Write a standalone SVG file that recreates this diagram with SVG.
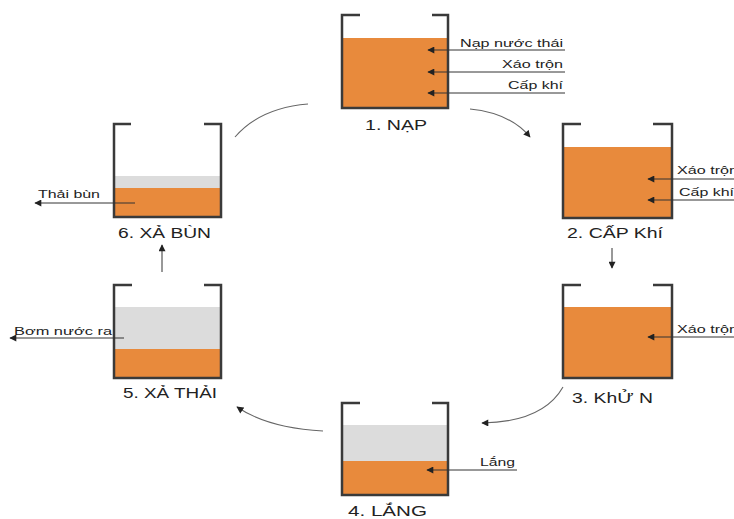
<svg xmlns="http://www.w3.org/2000/svg" width="734" height="519" viewBox="0 0 734 519">
<defs>
<marker id="ah" viewBox="0 0 10 10" refX="9" refY="5" markerWidth="8" markerHeight="7" markerUnits="userSpaceOnUse" orient="auto">
<path d="M0,0 L10,5 L0,10 z" fill="#222"/>
</marker>
<style>
.wall{fill:none;stroke:#3a3a3a;stroke-width:2.5}
.org{fill:#E88A3C}
.gry{fill:#DCDCDC}
.ln{fill:none;stroke:#333;stroke-width:1}
.cv{fill:none;stroke:#666;stroke-width:1.1}
.sm{font-family:"Liberation Sans",Arial,sans-serif;font-size:10.5px;fill:#222}
.lb{font-family:"Liberation Sans",Arial,sans-serif;font-size:14px;fill:#222}
</style>
</defs>
<rect width="734" height="519" fill="#fff"/>

<g id="tank1">
<rect class="org" x="342" y="38" width="106" height="70"/>
<path class="wall" d="M360,15 H342 V108 H448 V15 H432"/>
<text class="sm" x="460" y="47" textLength="103" lengthAdjust="spacingAndGlyphs">Nạp nước thái</text>
<text class="sm" x="502" y="68" textLength="61" lengthAdjust="spacingAndGlyphs">Xáo trộn</text>
<text class="sm" x="508" y="89" textLength="55" lengthAdjust="spacingAndGlyphs">Cấp khí</text>
<path class="ln" d="M565,50 H428" marker-end="url(#ah)"/>
<path class="ln" d="M565,72 H428" marker-end="url(#ah)"/>
<path class="ln" d="M565,93 H428" marker-end="url(#ah)"/>
<text class="lb" x="365" y="130" textLength="62" lengthAdjust="spacingAndGlyphs">1. NẠP</text>
</g>

<g id="tank2">
<rect class="org" x="563" y="147" width="109" height="71"/>
<path class="wall" d="M581,124 H563 V218 H672 V124 H653"/>
<text class="sm" x="677" y="174" textLength="61" lengthAdjust="spacingAndGlyphs">Xáo trộn</text>
<text class="sm" x="679" y="196" textLength="55" lengthAdjust="spacingAndGlyphs">Cấp khí</text>
<path class="ln" d="M734,179 H648" marker-end="url(#ah)"/>
<path class="ln" d="M734,200 H648" marker-end="url(#ah)"/>
<text class="lb" x="567" y="238" textLength="96" lengthAdjust="spacingAndGlyphs">2. CẤP Khí</text>
</g>

<g id="tank3">
<rect class="org" x="563" y="307" width="109" height="71"/>
<path class="wall" d="M581,285 H563 V378 H672 V285 H653"/>
<text class="sm" x="677" y="333" textLength="61" lengthAdjust="spacingAndGlyphs">Xáo trộn</text>
<path class="ln" d="M734,337 H648" marker-end="url(#ah)"/>
<text class="lb" x="572" y="403" textLength="81" lengthAdjust="spacingAndGlyphs">3. KhỬ N</text>
</g>

<g id="tank4">
<rect class="gry" x="342" y="425" width="106" height="36"/>
<rect class="org" x="342" y="461" width="106" height="34"/>
<path class="wall" d="M360,403 H342 V495 H448 V403 H432"/>
<text class="sm" x="480" y="466" textLength="35" lengthAdjust="spacingAndGlyphs">Lắng</text>
<path class="ln" d="M517,470 H427" marker-end="url(#ah)"/>
<text class="lb" x="348" y="516" textLength="79" lengthAdjust="spacingAndGlyphs">4. LẮNG</text>
</g>

<g id="tank5">
<rect class="gry" x="114" y="307" width="107" height="42"/>
<rect class="org" x="114" y="349" width="107" height="29"/>
<path class="wall" d="M132,285 H114 V378 H221 V285 H204"/>
<text class="sm" x="14" y="335" textLength="98" lengthAdjust="spacingAndGlyphs">Bơm nước ra</text>
<path class="ln" d="M124,338 H10" marker-end="url(#ah)"/>
<text class="lb" x="123" y="398" textLength="94" lengthAdjust="spacingAndGlyphs">5. XẢ THẢI</text>
</g>

<g id="tank6">
<rect class="gry" x="114" y="176" width="107" height="12"/>
<rect class="org" x="114" y="188" width="107" height="29"/>
<path class="wall" d="M131,124 H114 V217 H221 V124 H204"/>
<text class="sm" x="38" y="198" textLength="62" lengthAdjust="spacingAndGlyphs">Thải bùn</text>
<path class="ln" d="M135,203 H35" marker-end="url(#ah)"/>
<text class="lb" x="118" y="238" textLength="93" lengthAdjust="spacingAndGlyphs">6. XẢ BÙN</text>
</g>

<g id="connectors">
<path class="cv" d="M235,137 Q260,108 308,104"/>
<path class="cv" d="M470,109 Q510,113 530,137" marker-end="url(#ah)"/>
<path class="ln" d="M612,248 V268" marker-end="url(#ah)"/>
<path class="cv" d="M563,387 Q543,422 482,423" marker-end="url(#ah)"/>
<path class="cv" d="M323,431 Q268,428 237,407" marker-end="url(#ah)"/>
<path class="ln" d="M162,272 V245" marker-end="url(#ah)"/>
</g>
</svg>
